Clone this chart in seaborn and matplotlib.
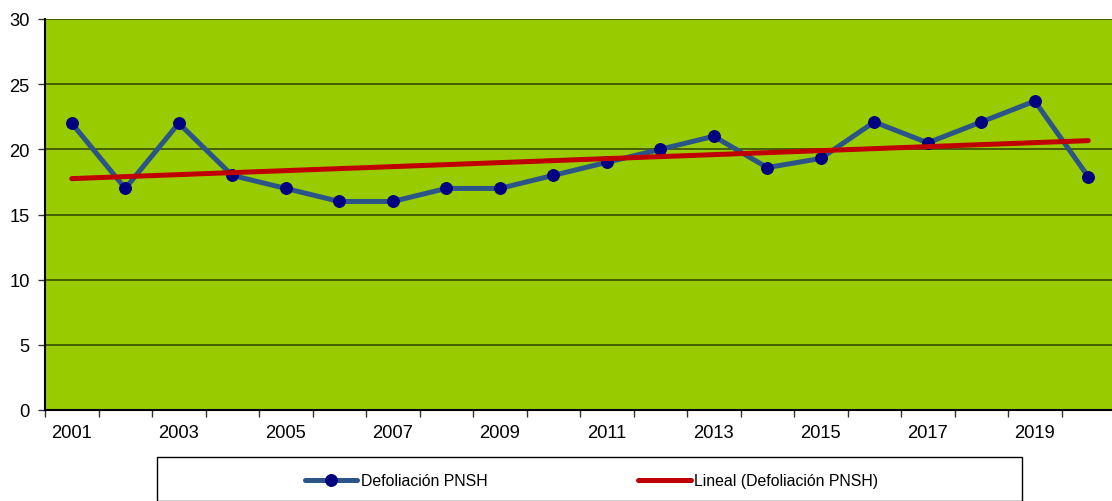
import numpy as np
import pandas as pd
import matplotlib
matplotlib.use("Agg")
import matplotlib.pyplot as plt
from matplotlib.patches import Rectangle
import seaborn as sns

years = list(range(2001, 2021))
defoliacion = [22, 17, 22, 18, 17, 16, 16, 17, 17, 18, 19, 20, 21, 18.6, 19.3, 22.1, 20.5, 22.1, 23.7, 17.9]
y_ticks = [0, 5, 10, 15, 20, 25, 30]
label_series = "Defoliación PNSH"
label_trend = "Lineal (Defoliación PNSH)"

sns.set_style("white")
plt.rcParams["font.family"] = ["Liberation Sans", "DejaVu Sans"]
plt.rcParams["text.color"] = "black"
plt.rcParams["xtick.color"] = "black"
plt.rcParams["ytick.color"] = "black"

W, H = 1112, 502
fig = plt.figure(figsize=(W / 100, H / 100), dpi=100)
ax = fig.add_axes([45 / W, (H - 411) / H, 1070 / W, 391 / H])
ax.set_facecolor("#99CC00")

df = pd.DataFrame({"pos": np.arange(len(years)), "year": years, "val": defoliacion})

for t in y_ticks:
    ax.axhline(t, color="#3F5500", lw=1.3, zorder=0.5)

sns.lineplot(data=df, x="pos", y="val", ax=ax, color="#2B5589", lw=3.6,
             marker="o", markersize=8.5, markerfacecolor="#000080",
             markeredgecolor="#000080", label=label_series, zorder=3)
sns.regplot(data=df, x="pos", y="val", ax=ax, scatter=False, ci=None,
            line_kws=dict(color="#C00000", lw=3.6, solid_capstyle="round", zorder=4),
            label=label_trend)

ax.set_xlim(-0.5, len(years) - 0.5)
ax.set_ylim(0, 30)
ax.set_yticks(y_ticks)
ax.set_yticklabels([str(t) for t in y_ticks], fontsize=13.2, color="black")
ax.set_xticks(np.arange(len(years) + 1) - 0.5)
ax.set_xticklabels([])
ax.set_xticks(np.arange(len(years)), minor=True)
ax.set_xticklabels([str(y) if i % 2 == 0 else "" for i, y in enumerate(years)],
                   minor=True, fontsize=13.2, color="black")
ax.tick_params(axis="x", which="major", direction="out", length=5, width=1, color="#333333", bottom=True)
ax.tick_params(axis="x", which="minor", length=0, pad=10)
ax.tick_params(axis="y", direction="out", length=5, width=1, color="#333333", left=True, pad=6)
ax.set_xlabel("")
ax.set_ylabel("")
for s in ["left", "bottom"]:
    ax.spines[s].set_color("black")
    ax.spines[s].set_linewidth(1.5)
ax.spines["top"].set_visible(False)
ax.spines["right"].set_visible(False)

handles, labels = ax.get_legend_handles_labels()
if ax.get_legend():
    ax.get_legend().remove()

fig.patches.append(Rectangle((157 / W, 0), (1022 - 157) / W, (H - 458) / H,
                             transform=fig.transFigure, fill=False, edgecolor="black",
                             lw=1, clip_on=False))
fig.legend(handles, labels, loc="center left", bbox_to_anchor=(305 / W, (H - 482) / H),
           ncol=2, frameon=False, fontsize=11.4, handlelength=3.3, handletextpad=0.25,
           columnspacing=9.5, borderaxespad=0, borderpad=0)

fig.savefig("out.png", dpi=100, facecolor="white")
